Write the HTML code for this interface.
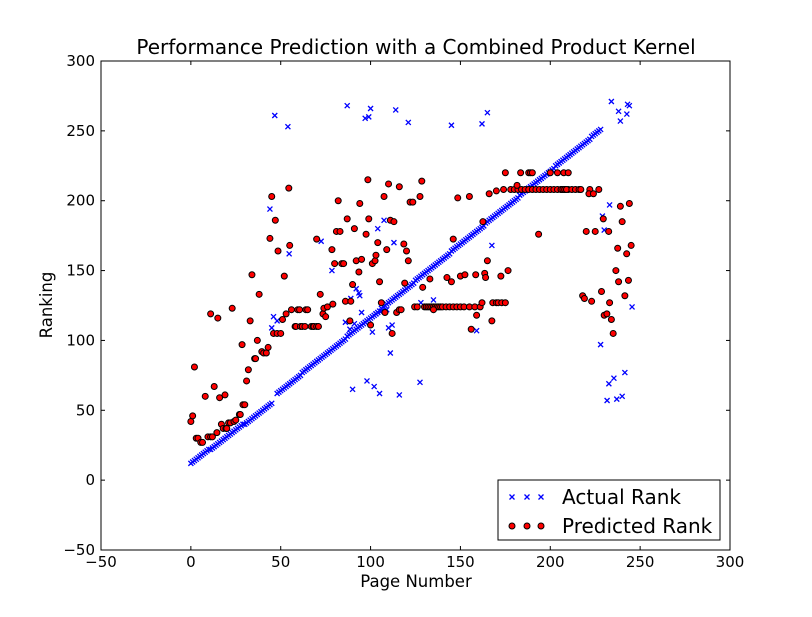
<!DOCTYPE html>
<html><head><meta charset="utf-8">
<style>
body{margin:0;background:#fff;}
svg text{font-family:"DejaVu Sans","Liberation Sans",sans-serif;}
</style></head>
<body>
<svg id="chart" width="812" height="612" viewBox="0 0 812 612" xmlns="http://www.w3.org/2000/svg">
<rect width="812" height="612" fill="#fff"/>
<text x="416" y="54" font-size="20" text-anchor="middle">Performance Prediction with a Combined Product Kernel</text>
<text x="416" y="587" font-size="16.5" text-anchor="middle">Page Number</text>
<text x="52" y="305" font-size="16.5" text-anchor="middle" transform="rotate(-90 52 305)">Ranking</text>
<g id="marks"></g>
<g id="axes"></g>
<g>
<rect x="498" y="480" width="222" height="60" fill="#fff" stroke="#000" stroke-width="1"/>
<g id="legend-marks"></g>
<text x="562" y="504" font-size="20">Actual Rank</text>
<text x="562" y="533" font-size="20">Predicted Rank</text>
</g>
</svg>
<script>
const xTicks=[-50,0,50,100,150,200,250,300];
const yTicks=[-50,0,50,100,150,200,250,300];
const diag1Start=0;
const diag1Values=[12,13,14,15,16,17,18,19,20,21,22,22,23,24,25,26,27,28,29,30,31,32,33,34,35,36,37,38,39,40,40,41,42,43,44,45,46,47,48,49,50,51,52,53,54,55];
const diag2Start=48;
const diag2Values=[62,63,64,65,66,67,68,69,70,71,72,73,74,75,77,78,79,80,81,82,83,84,85,86,87,88,89,90,91,92,93,94,95,96,97,98,99,100,101,103,104,105,106,107,108,109,110,111,112,113,114,115,116,117,118,119,120,121,123,124,125,126,127,128,129,130,131,132,133,134,135,136,137,138,139,140,141,143,144,145,146,147,148,149,150,151,152,153,154,155,156,157,158,159,160,161,162,164,165,166,167,168,169,170,171,172,173,174,175,176,177,178,179,180,181,182,184,185,186,187,188,189,190,191,192,193,194,195,196,197,198,199,200,201,202,204,205,206,207,208,209,210,211,212,213,214,215,216,217,218,219,220,221,222,223,225,226,227,228,229,230,231,232,233,234,235,236,237,238,239,240,241,242,243,244,246,247,248,249,250,251];
const outlierX=[46.7,54,87,100,97,99,114,121,145,162,165,234,238,239,242.6,243,244,44,54.7,72.5,78.5,46,48,45,107.5,104,113,167.5,128,135,103,106,109,110,112,101,111,159,102,105,116,127.5,90,98,92,93.5,94,89,95,86,91,88.5,233,229,230,245.5,228,241.5,235.4,232.6,231.6,237,240];
const outlierY=[261,253,268,266,259,260,265,256,254,255,263,271,264,257,262,269,268,194,162,171,150,117,114,109,186,180,170,168,127,129,119,121,122,109,111,106,91,107,67,62,61,70,65,71,137,134,132,130,120,113,112,108,197,189,179,124,97,77,73,69,57,58,60];
const predX=[0,1,2,3,4,5.5,6.5,8,9.5,11,12,11,13,14.5,15,16,17,18,19.5,19,20,21,22,23,24,25,27,27.5,28.5,29,30,31,32,33,34,35.5,36,37,38,39.5,40.5,42,43,44,45,46,48,50,47,48.5,51,52,53,54.5,55,56,59.5,60.5,64,65,58,58.5,61,62,63.5,67,68,68.5,70,71,70,72,73.5,74,75,76,78.5,79,80,84,85,81,83,82,86,89,87,88.5,90,91,92,93.5,94,95,97.5,98.5,99,100,101,102.5,103,104,105,106,107.5,108,109,110,111,113,112,114.5,116,117,116,118.5,119,120,121,122,123.5,124.5,126,127.5,128.5,129,130,131,132,133,134,135,136,137,138,139,140,142,144,146,148,150,152,155,158,161,162,168,170,171,173,175,133,135,142.5,145,146,148.5,150,152.5,155,156,158.5,159,162.5,163.5,164,165,166,167.5,170,172.5,174,175,176.5,178,180,182,184,186,188,190,192,194,196,198,200,202,204,206,208,210,181.5,183.5,188,189,190,193.5,200,204,207.5,210,206,207,208,209,212,214,216,217,222,227,221.5,224,239,244,229.5,240,220,225,232.5,237.5,245,242.5,236.5,238,243.5,228.5,218,219,223,233,241.5,230,231.5,234,235];
const predY=[42,46,81,30,30,27,27,60,31,31,31,119,67,34,116,59,40,37,37,61,37,41,41,123,42,43,47,47,97,54,54,71,79,114,147,87,87,100,133,92,91,91,95,173,203,105,105,105,186,164,115,146,119,209,168,122,122,122,122,122,110,110,110,110,110,110,110,110,110,110,172.5,133,119,123,117,124,165,126,155,155,155,178,178,200,128,128,187,114,140,180,157,149,198,158,176,215,187,111,155,157,161,170,142,127,203,120,165,212,186,185,105,120,122,122,210,169,141,164,157,199,199,124,124,203,214,138,124,124,124,124,124,124,124,124,124,124,124,124,124,124,124,124,124,124,124,124,127,127,127,127,127,127,144,122,145,142,172.5,202,146,147,203,108,147,118,185,148,145,157,205,114,207,146,208,220,150,208,208,208,208,208,208,208,208,208,208,208,208,208,208,208,208,208,211,220,220,220,220,176,220,220,220,220,208,208,208,208,208,208,208,208,208,208,205,205,196,198,187,185,178,178,178,166,168,162,150,142,143,135,132,130,128,127,132,118,119,115,105];

const L=101,R=730,T=61,B=550;
const sx=v=>L+(v+50)*(R-L)/350;
const sy=v=>B-(v+50)*(B-T)/350;
const NS="http://www.w3.org/2000/svg";
const marks=document.getElementById('marks');
const axes=document.getElementById('axes');
function mk(tag,attrs,parent){const e=document.createElementNS(NS,tag);for(const k in attrs)e.setAttribute(k,attrs[k]);parent.appendChild(e);return e;}
function cross(x,y,parent){
  return mk('path',{d:`M${x-2.5},${y-2.5}L${x+2.5},${y+2.5}M${x-2.5},${y+2.5}L${x+2.5},${y-2.5}`,stroke:'#0000ff','stroke-width':1.3,fill:'none'},parent);
}
function dot(x,y,parent){return mk('circle',{cx:x,cy:y,r:3,fill:'#ff0000',stroke:'#000','stroke-width':1},parent);}
diag1Values.forEach((v,i)=>{
  const e=cross(sx(diag1Start+i),sy(v),marks);
  
  
});
diag2Values.forEach((v,i)=>{
  const e=cross(sx(diag2Start+i),sy(v),marks);
  
  
});
outlierX.forEach((x,i)=>{
  const e=cross(sx(x),sy(outlierY[i]),marks);
  
  
});
predX.forEach((x,i)=>{
  const e=dot(sx(x),sy(predY[i]),marks);
  
  
});
const fr=mk('rect',{x:L,y:T,width:R-L,height:B-T,fill:'none',stroke:'#000','stroke-width':1},axes);


xTicks.forEach(t=>{
  const x=sx(t);
  mk('line',{x1:x,y1:B,x2:x,y2:B-4,stroke:'#000'},axes);
  mk('line',{x1:x,y1:T,x2:x,y2:T+4,stroke:'#000'},axes);
  const tx=mk('text',{x:x,y:B+17,'font-size':15,'text-anchor':'middle'},axes);
  tx.textContent=t<0?'\u2212'+(-t):t;
  
  
});
yTicks.forEach(t=>{
  const y=sy(t);
  mk('line',{x1:L,y1:y,x2:L+4,y2:y,stroke:'#000'},axes);
  mk('line',{x1:R,y1:y,x2:R-4,y2:y,stroke:'#000'},axes);
  const tx=mk('text',{x:L-6,y:y+5,'font-size':15,'text-anchor':'end'},axes);
  tx.textContent=t<0?'\u2212'+(-t):t;
  
  
});
const lm=document.getElementById('legend-marks');
[512,527,541].forEach(x=>{cross(x,497,lm);dot(x,526,lm);});
</script>
</body></html>
